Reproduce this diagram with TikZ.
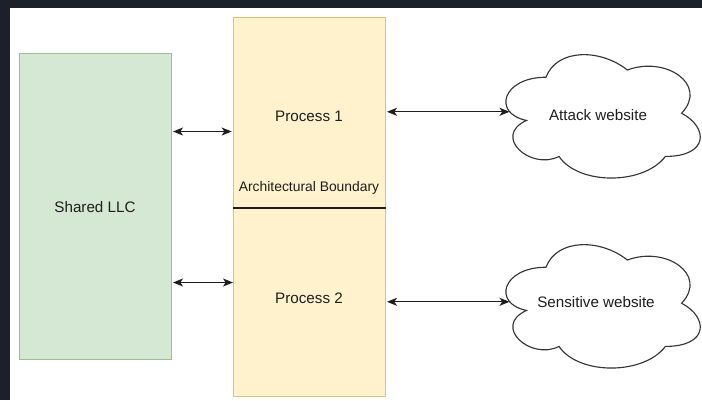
\documentclass[tikz,border=0pt]{standalone}
\usepackage{fontspec}
\setmainfont{Liberation Sans}
\usetikzlibrary{arrows.meta}

\definecolor{frame}{HTML}{1C202B}
\definecolor{llcfill}{HTML}{D5E8D4}
\definecolor{llcline}{HTML}{9DBE8E}
\definecolor{procfill}{HTML}{FFF2CC}
\definecolor{procline}{HTML}{DCC27A}
\definecolor{ink}{HTML}{1E1E1E}

% outline of a cloud in unit coordinates (0..1 across, 0..1 down)
\newcommand{\cloudoutline}{%
  (0.25,0.25) .. controls (0.05,0.25) and (0,0.5) .. (0.16,0.55)
  .. controls (0,0.66) and (0.18,0.9) .. (0.31,0.8)
  .. controls (0.4,1) and (0.7,1) .. (0.8,0.8)
  .. controls (1,0.8) and (1,0.6) .. (0.875,0.5)
  .. controls (1,0.3) and (0.8,0.1) .. (0.625,0.2)
  .. controls (0.5,0.05) and (0.3,0.05) .. (0.25,0.25) -- cycle}

\begin{document}
\begin{tikzpicture}[x=0.75pt, y=-0.75pt,
  box/.style={draw, line width=0.75pt, inner sep=0pt, anchor=north west, minimum width=114pt},
  lbl/.style={font=\fontsize{11.4}{13}\selectfont, text=ink, inner sep=0pt},
  small/.style={font=\fontsize{10.4}{12}\selectfont, text=ink, inner sep=0pt},
  cloudbox/.style={inner sep=0pt, minimum width=162.75pt, minimum height=108pt},
  cloudline/.style={draw=ink!90, line width=0.85pt, fill=white},
  link/.style={{Stealth[length=7.5pt,width=6pt,inset=2pt]}-{Stealth[length=7.5pt,width=6pt,inset=2pt]},
               line width=1pt, draw=ink},
]
\useasboundingbox (0,0) rectangle (702,400);

% page backdrop with the dark frame on the top and left
\fill[white] (0,0) rectangle (702,400);
\fill[frame] (0,0) rectangle (702,8);
\fill[frame] (0,0) rectangle (10,400);

% shared cache
\node[box, draw=llcline, fill=llcfill, minimum height=229.5pt] (llc) at (19,53) {};
\node[lbl] (llctext) at (95,207) {Shared LLC};

% the two processes, split by the architectural boundary
\node[box, draw=procline, fill=procfill, minimum height=142.5pt] (p1) at (233,17) {};
\node[box, draw=procline, fill=procfill, minimum height=141.75pt] (p2) at (233,207) {};
\draw[line width=1pt, ink] (p1.south west) -- (p1.south east);
\node[lbl] (p1text) at (309,116) {Process 1};
\node[lbl] (p2text) at (309,298) {Process 2};
\node[small] (boundary) at (309,188) {Architectural Boundary};

% websites
\node[cloudbox] (atk) at (600.5,113.5) {};
\node[cloudbox] (sen) at (600.5,303.5) {};
\begin{scope}[shift={(atk.north west)}, x=162.75pt, y=-108pt]
  \draw[cloudline] \cloudoutline;
  \coordinate (atkin) at (0.082,0.49);
\end{scope}
\begin{scope}[shift={(sen.north west)}, x=162.75pt, y=-108pt]
  \draw[cloudline] \cloudoutline;
  \coordinate (senin) at (0.082,0.49);
\end{scope}
\node[lbl] (atktext) at (598,115) {Attack website};
\node[lbl] (sentext) at (596,302) {Sensitive website};

% connectors
\coordinate (hiLink) at (0,131.5);
\coordinate (loLink) at (0,282.5);
\draw[link] ([xshift=0.75pt]llc.east |- hiLink) -- ([xshift=-1pt]p1.west |- hiLink);
\draw[link] ([xshift=0.75pt]llc.east |- loLink) -- (p2.west |- loLink);
\draw[link] ([xshift=0.75pt]p1.east |- atkin) -- (atkin);
\draw[link] ([xshift=0.75pt]p2.east |- senin) -- (senin);
\end{tikzpicture}
\end{document}
